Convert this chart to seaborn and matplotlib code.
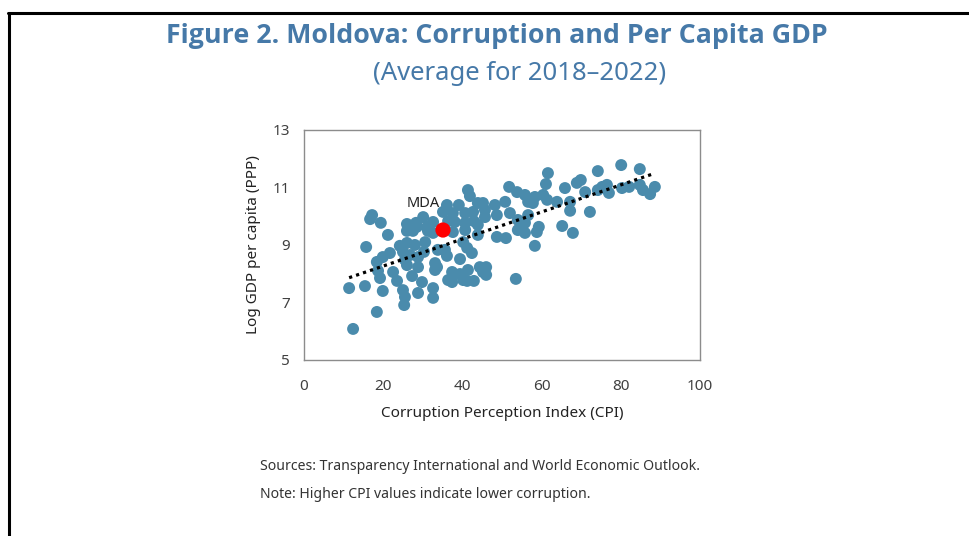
import matplotlib
matplotlib.use("Agg")
import matplotlib.pyplot as plt
from matplotlib.lines import Line2D
import seaborn as sns
import pandas as pd

# values (CPI, log GDP per capita)
cpi = [11.4, 12.4, 15.4, 15.7, 16.7, 17.2, 18.4, 19.4, 18.4, 19.9,
       21.7, 19.9, 21.2, 18.7, 19.2, 22.5, 23.5, 24.2, 26.0, 25.0,
       25.5, 26.0, 26.0, 26.0, 25.0, 25.5, 25.3, 26.8, 27.3, 27.5,
       28.0, 28.5, 28.8, 28.8, 28.8, 29.8, 30.1, 30.3, 30.6, 31.1,
       31.3, 32.6, 32.6, 32.6, 32.6, 33.1, 33.6, 33.1, 33.8, 35.6,
       36.1, 35.1, 36.1, 36.4, 36.4, 37.4, 37.6, 37.6, 37.4, 38.1,
       37.6, 39.1, 39.4, 39.4, 40.2, 40.2, 40.7, 40.7, 40.7, 41.2,
       41.4, 41.9, 41.4, 41.2, 42.4, 42.7, 42.9, 42.9, 43.9, 43.9,
       43.9, 44.4, 45.2, 45.2, 45.7, 45.7, 46.0, 46.0, 48.2, 48.7,
       48.7, 50.8, 51.0, 51.8, 52.0, 53.8, 53.5, 54.0, 54.0, 55.8,
       55.8, 55.8, 56.6, 56.6, 57.8, 58.3, 58.3, 58.8, 59.3, 60.4,
       61.1, 61.4, 61.6, 63.9, 65.2, 65.9, 67.2, 67.2, 67.9, 68.9,
       69.9, 71.0, 72.2, 74.2, 74.2, 75.3, 76.5, 77.0, 80.1, 80.3,
       82.1, 84.8, 84.8, 85.6, 87.4, 88.6, 28.3]
log_gdp = [7.50, 6.08, 7.57, 8.93, 9.90, 10.04, 6.67, 9.77, 8.41, 8.58,
           8.72, 7.40, 9.35, 8.10, 7.85, 8.06, 7.75, 8.97, 9.07, 8.76,
           8.48, 8.30, 9.73, 9.49, 7.43, 7.19, 6.91, 8.65, 7.92, 9.49,
           9.00, 9.63, 8.58, 8.23, 7.33, 7.71, 9.97, 8.76, 9.10, 9.63,
           9.49, 9.80, 9.42, 7.50, 7.16, 8.37, 8.23, 8.13, 8.83, 8.83,
           10.39, 10.15, 8.62, 9.83, 7.78, 8.06, 7.92, 10.11, 7.71, 9.80,
           9.45, 10.39, 8.51, 7.99, 7.78, 9.10, 10.11, 9.77, 9.52, 8.90,
           10.91, 10.70, 8.13, 7.75, 8.72, 10.15, 9.83, 7.75, 10.46, 9.70,
           9.35, 8.23, 10.46, 8.06, 10.22, 9.97, 8.23, 7.96, 10.39, 10.04,
           9.28, 10.50, 9.24, 11.02, 10.11, 10.84, 7.82, 9.87, 9.52, 10.74,
           9.77, 9.42, 10.50, 10.04, 10.46, 10.67, 8.97, 9.45, 9.63, 10.74,
           11.12, 10.57, 11.50, 10.50, 9.66, 10.98, 10.50, 10.19, 9.42, 11.16,
           11.26, 10.84, 10.15, 11.57, 10.91, 11.02, 11.09, 10.81, 11.78, 10.98,
           11.02, 11.64, 11.09, 10.91, 10.77, 11.02, 9.77]

mda_cpi = [35.1]
mda_gdp = [9.52]
mda_label = "MDA"

x_ticks = [0, 20, 40, 60, 80, 100]
y_ticks = [5, 7, 9, 11, 13]

df = pd.DataFrame({"cpi": cpi, "gdp": log_gdp})

sns.set_style("white")
plt.rcParams["font.family"] = ["Noto Sans", "DejaVu Sans"]

blue_pt = "#4a8bac"
title_col = "#4679a8"
text_col = "#404040"
spine_col = "#8c8c8c"

fig = plt.figure(figsize=(9.69, 5.36), dpi=100)
ax = fig.add_axes([0.3137, 0.3284, 0.4087, 0.4291])

sns.scatterplot(data=df, x="cpi", y="gdp", ax=ax, color=blue_pt, s=74,
                edgecolor="none", alpha=1, zorder=2)
# dotted trend line over the data range
sns.regplot(data=df, x="cpi", y="gdp", ax=ax, scatter=False, ci=None,
            color="black", line_kws={"ls": (0, (1, 1.3)), "lw": 2.3, "zorder": 3})
sns.scatterplot(x=mda_cpi, y=mda_gdp, ax=ax, color="#ff0000", s=120,
                edgecolor="none", zorder=4)
ax.text(30.1, 10.45, mda_label, ha="center", va="center", fontsize=10.5,
        color="#222222", zorder=5)

ax.set_xlim(0, 100)
ax.set_ylim(5, 13)
ax.set_xticks(x_ticks)
ax.set_yticks(y_ticks)
ax.set_xlabel("Corruption Perception Index (CPI)", fontsize=11, color="#222222", labelpad=8)
ax.set_ylabel("Log GDP per capita (PPP)", fontsize=11, color="#222222", labelpad=8)
ax.tick_params(axis="both", direction="in", length=4, width=1, color=spine_col,
               labelsize=11, labelcolor=text_col)
ax.tick_params(axis="x", pad=14)
ax.tick_params(axis="y", pad=10)
for sp in ax.spines.values():
    sp.set_visible(True)
    sp.set_color(spine_col)
    sp.set_linewidth(1)

fig.text(0.513, 0.933, "Figure 2. Moldova: Corruption and Per Capita GDP",
         ha="center", va="center", fontsize=19.3, fontweight="bold", color=title_col,
         family=["Open Sans", "DejaVu Sans"])
fig.text(0.536, 0.862, "(Average for 2018\u20132022)",
         ha="center", va="center", fontsize=18.5, color=title_col)
fig.text(0.268, 0.129, "Sources: Transparency International and World Economic Outlook.",
         ha="left", va="center", fontsize=10.1, color="#333333")
fig.text(0.268, 0.0765, "Note: Higher CPI values indicate lower corruption.",
         ha="left", va="center", fontsize=10.1, color="#333333")

# frame lines on top and left of the figure box
fig.add_artist(Line2D([0.0083, 1.0], [0.9757, 0.9757], color="black", lw=2.2,
                      transform=fig.transFigure))
fig.add_artist(Line2D([0.0093, 0.0093], [0.0, 0.9757], color="black", lw=2.2,
                      transform=fig.transFigure))

fig.savefig("out.png", dpi=100)
